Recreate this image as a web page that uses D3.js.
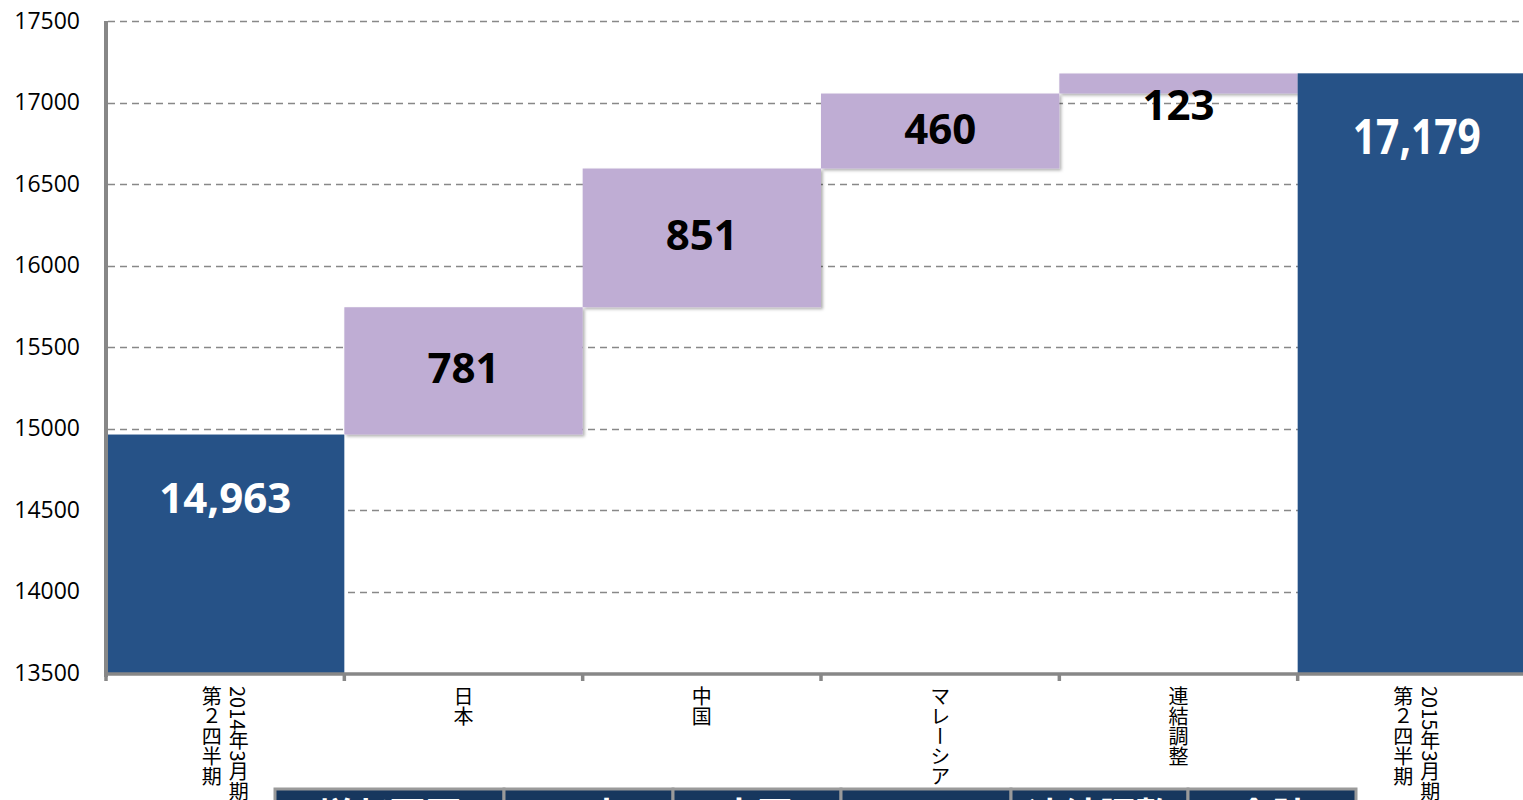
<!DOCTYPE html>
<html>
<head>
<meta charset="utf-8">
<script src="https://cdn.jsdelivr.net/npm/d3@7"></script>
<style>
  html, body { margin: 0; padding: 0; background: #fff; overflow: hidden; }
  svg { display: block; }
</style>
</head>
<body>
<svg width="1523" height="800"></svg>
<script>
// chart values
const categories = ['2014年3月期\n第２四半期', '日本', '中国', 'マレーシア', '連結調整', '2015年3月期\n第２四半期'];
const values = [14963, 781, 851, 460, 123, 17179];
const kinds = ['total', 'delta', 'delta', 'delta', 'delta', 'total'];
const labels = ['14,963', '781', '851', '460', '123', '17,179'];
const yTicks = [13500, 14000, 14500, 15000, 15500, 16000, 16500, 17000, 17500];
const tableHeaders = ['増収要因', '日本', '中国', 'マレーシア', '連結調整', '合計'];

const svg = d3.select('svg');
const totalColor = '#265287';
const deltaColor = '#bfadd4';

const x = d3.scaleBand()
  .domain(categories)
  .range([106, 1536])
  .padding(0);

const y = d3.scaleLinear()
  .domain([13500, 17500])
  .range([673, 21]);

// running base for waterfall
let running = 0;
const bars = categories.map((c, i) => {
  let lo; let hi;
  if (kinds[i] === 'total') {
    lo = 13500; hi = values[i]; running = values[i];
  } else {
    lo = running; hi = running + values[i]; running = hi;
  }
  return { cat: c, lo, hi, kind: kinds[i], label: labels[i] };
});

const defs = svg.append('defs');
const shadow = defs.append('filter').attr('id', 'shadow')
  .attr('x', '-5%').attr('y', '-5%').attr('width', '115%').attr('height', '130%');
shadow.append('feDropShadow')
  .attr('dx', 2).attr('dy', 2).attr('stdDeviation', 1.6)
  .attr('flood-color', '#000').attr('flood-opacity', 0.3);

// gridlines
svg.append('g')
  .selectAll('line')
  .data(yTicks.slice(1))
  .join('line')
  .attr('x1', 108)
  .attr('x2', 1523)
  .attr('y1', (d) => Math.round(y(d)) + 0.5)
  .attr('y2', (d) => Math.round(y(d)) + 0.5)
  .attr('stroke', '#888')
  .attr('stroke-width', 1.6)
  .attr('stroke-dasharray', '7,5');

// bars
svg.append('g')
  .selectAll('rect')
  .data(bars)
  .join('rect')
  .attr('x', (d) => x(d.cat) + (d.cat === categories[0] ? 2 : 0))
  .attr('width', (d) => x.bandwidth() - (d.cat === categories[0] ? 2 : 0))
  .attr('y', (d) => y(d.hi))
  .attr('height', (d) => y(d.lo) - y(d.hi))
  .attr('fill', (d) => (d.kind === 'total' ? totalColor : deltaColor))
  .attr('filter', (d) => (d.kind === 'delta' ? 'url(#shadow)' : null));

// value labels
const isLast = (i) => i === bars.length - 1;
svg.append('g')
  .selectAll('text')
  .data(bars)
  .join('text')
  .attr('x', (d) => x(d.cat) + x.bandwidth() / 2)
  .attr('y', (d) => {
    const top = y(d.hi);
    if (d.kind === 'total') return top + 62;
    return Math.max((y(d.hi) + y(d.lo)) / 2 - 4, top + 30);
  })
  .attr('text-anchor', 'middle')
  .attr('dominant-baseline', 'central')
  .attr('fill', (d) => (d.kind === 'total' ? '#fff' : '#000'))
  .attr('textLength', (d, i) => (isLast(i) ? 128 : null))
  .attr('lengthAdjust', (d, i) => (isLast(i) ? 'spacingAndGlyphs' : null))
  .style('font-family', '"Open Sans", sans-serif')
  .style('font-weight', 'bold')
  .style('font-size', (d, i) => (isLast(i) ? '49px' : '42px'))
  .text((d) => d.label);

// y axis
const yAxis = svg.append('g')
  .attr('transform', 'translate(106,0)')
  .call(d3.axisLeft(y).tickValues(yTicks).tickSize(0).tickPadding(26).tickFormat(d3.format('d')));
yAxis.select('.domain').remove();
yAxis.selectAll('text')
  .style('font-family', '"Open Sans", sans-serif')
  .style('font-size', '23px')
  .attr('fill', '#000');
svg.append('line')
  .attr('x1', 106).attr('x2', 106)
  .attr('y1', y(17500)).attr('y2', 677)
  .attr('stroke', '#878787')
  .attr('stroke-width', 4);

// x axis line and ticks at category boundaries
svg.append('line')
  .attr('x1', 104).attr('x2', 1523)
  .attr('y1', y(13500) + 1).attr('y2', y(13500) + 1)
  .attr('stroke', '#878787')
  .attr('stroke-width', 3.5);
svg.append('g')
  .selectAll('line')
  .data(categories)
  .join('line')
  .attr('x1', (d) => x(d))
  .attr('x2', (d) => x(d))
  .attr('y1', y(13500))
  .attr('y2', y(13500) + 8)
  .attr('stroke', '#878787')
  .attr('stroke-width', 3.5);

// vertical category labels
const catG = svg.append('g');
categories.forEach((c) => {
  const lines = c.split('\n');
  const cx = x(c) + x.bandwidth() / 2;
  const lh = 27;
  lines.forEach((ln, j) => {
    catG.append('text')
      .attr('x', cx + (lines.length - 1) * lh / 2 - j * lh)
      .attr('y', 686)
      .style('writing-mode', 'vertical-rl')
      .style('font-family', '"Noto Sans CJK JP", sans-serif')
      .style('font-size', '20px')
      .attr('fill', '#000')
      .attr('text-anchor', 'start')
      .text(ln);
  });
});

// table header (cut off at the bottom of the picture)
const tableLeft = 275;
const colWidths = [229, 169, 168, 170, 177, 168];
let cx0 = tableLeft;
const cols = colWidths.map((w) => { const o = { x: cx0, w }; cx0 += w; return o; });
const tbl = svg.append('g');
tbl.selectAll('rect')
  .data(cols)
  .join('rect')
  .attr('x', (d) => d.x)
  .attr('y', 789)
  .attr('width', (d) => d.w)
  .attr('height', 40)
  .attr('fill', '#17375e')
  .attr('stroke', '#9a9a9a')
  .attr('stroke-width', 3);
tbl.selectAll('text')
  .data(cols)
  .join('text')
  .attr('x', (d) => d.x + d.w / 2)
  .attr('y', 829)
  .attr('text-anchor', 'middle')
  .attr('fill', '#fff')
  .style('font-family', '"Noto Sans CJK JP", sans-serif')
  .style('font-weight', 'bold')
  .style('font-size', '36px')
  .text((d, i) => tableHeaders[i]);
</script>
</body>
</html>
